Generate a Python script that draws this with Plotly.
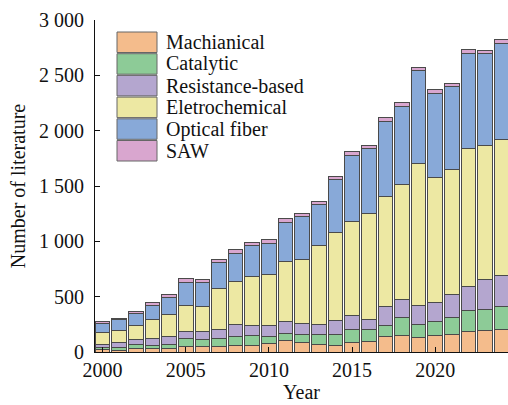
import plotly.graph_objects as go

years = list(range(2000, 2025))

machianical = [24, 18, 30, 30, 30, 54, 48, 48, 60, 57, 78, 102, 84, 72, 57, 84, 99, 139, 148, 132, 148, 160, 187, 190, 199]
catalytic = [18, 24, 42, 33, 36, 66, 66, 78, 81, 96, 60, 63, 75, 82, 102, 120, 105, 102, 163, 120, 130, 154, 187, 196, 211]
resistance = [24, 48, 42, 60, 78, 69, 75, 81, 108, 87, 99, 108, 102, 99, 130, 127, 90, 169, 166, 172, 169, 202, 217, 265, 277]
electrochemical = [108, 108, 126, 171, 192, 231, 226, 367, 386, 440, 464, 545, 578, 708, 789, 852, 958, 994, 1033, 1280, 1130, 1130, 1250, 1214, 1235]
optical = [87, 93, 111, 126, 156, 210, 211, 232, 256, 280, 280, 349, 383, 370, 482, 593, 590, 675, 708, 837, 756, 753, 858, 828, 867]
saw = [12, 12, 15, 24, 24, 30, 30, 30, 33, 33, 36, 36, 30, 30, 27, 36, 24, 42, 36, 30, 42, 30, 36, 33, 36]

series_names = ["Machianical", "Catalytic", "Resistance-based", "Eletrochemical", "Optical fiber", "SAW"]
series_values = [machianical, catalytic, resistance, electrochemical, optical, saw]
colors = ["#F4BC8C", "#8DCB97", "#B4A6CF", "#EDE8A3", "#88A9D8", "#D9A6CF"]

x_tick_vals = [2000, 2005, 2010, 2015, 2020]
x_tick_text = ["2000", "2005", "2010", "2015", "2020"]
y_tick_vals = [0, 500, 1000, 1500, 2000, 2500, 3000]

FONT = "Liberation Serif, Times New Roman, serif"

W, H = 508, 405
ML, MR, MT, MB = 95, 0, 20, 53
PW, PH = W - ML - MR, H - MT - MB

fig = go.Figure()
for name, vals, col in zip(series_names, series_values, colors):
    fig.add_trace(go.Bar(
        x=years, y=vals, name=name, width=0.88,
        marker=dict(color=col, line=dict(color="#4a4a4a", width=1)),
        showlegend=False,
    ))

# manual legend (large swatches like the reference)
def px_to_paper_x(px):
    return (px - ML) / PW

def px_to_paper_y(py):
    return (H - MB - py) / PH

shapes = []
annotations = []
sw_left, sw_right = 117, 157
top0, step, sh = 32, 21.7, 20.5
for i, (name, col) in enumerate(zip(series_names, colors)):
    top = top0 + i * step
    shapes.append(dict(
        type="rect", xref="paper", yref="paper",
        x0=px_to_paper_x(sw_left), x1=px_to_paper_x(sw_right),
        y0=px_to_paper_y(top + sh), y1=px_to_paper_y(top),
        fillcolor=col, line=dict(color="#666666", width=1),
    ))
    annotations.append(dict(
        xref="paper", yref="paper",
        x=px_to_paper_x(164), y=px_to_paper_y(top + sh / 2),
        text=name, showarrow=False, xanchor="left", yanchor="middle",
        font=dict(family=FONT, size=20, color="#111111"),
    ))

fig.update_layout(
    barmode="stack",
    width=W, height=H, autosize=False,
    margin=dict(l=ML, r=MR, t=MT, b=MB, pad=0),
    plot_bgcolor="white", paper_bgcolor="white",
    separators=". ",
    font=dict(family=FONT, size=20, color="#111111"),
    shapes=shapes,
    annotations=annotations,
    xaxis=dict(
        range=[1999.55, 2024.37],
        tickvals=x_tick_vals, ticktext=x_tick_text,
        ticks="inside", ticklen=5, tickcolor="#111111",
        showline=True, linecolor="#111111", linewidth=1,
        showgrid=False, zeroline=False,
        tickfont=dict(family=FONT, size=20),
        title=dict(text="Year", font=dict(family=FONT, size=20), standoff=2),
    ),
    yaxis=dict(
        range=[0, 3000],
        tickvals=y_tick_vals, tickformat=",d",
        ticks="inside", ticklen=5, tickcolor="#111111",
        showline=True, linecolor="#111111", linewidth=1,
        showgrid=False, zeroline=False,
        tickfont=dict(family=FONT, size=20),
        ticklabelstandoff=6,
        title=dict(text="Number of literature", font=dict(family=FONT, size=20), standoff=8),
    ),
)

fig.write_html("out.html", config={"displayModeBar": False},
               post_script="document.body.style.margin='0';")
